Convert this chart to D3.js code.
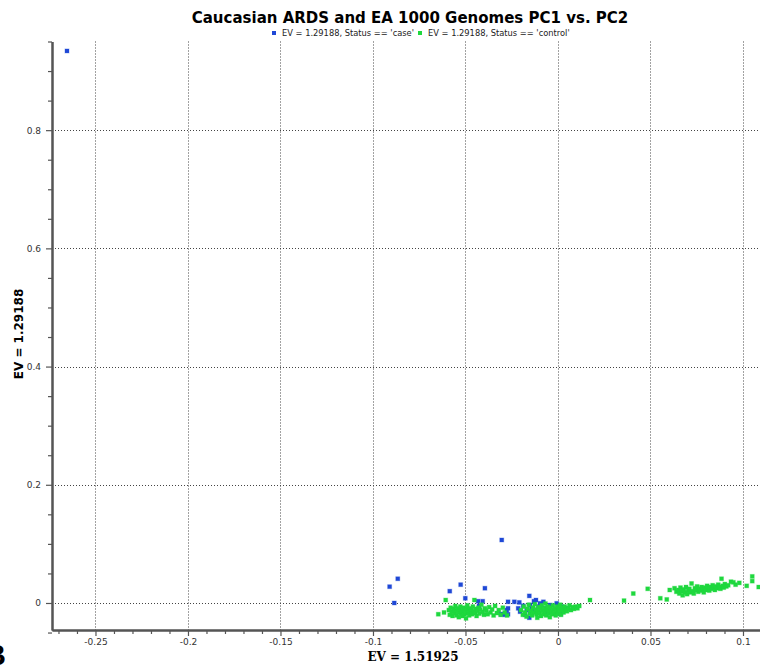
<!DOCTYPE html>
<html>
<head>
<meta charset="utf-8">
<script src="https://cdn.jsdelivr.net/npm/d3@7"></script>
<style>
  html, body { margin: 0; padding: 0; background: #fff; overflow: hidden; }
  svg { display: block; }
</style>
</head>
<body>
<div id="chart"></div>
<script>
// title / labels
const chartTitle  = "Caucasian ARDS and EA 1000 Genomes PC1 vs. PC2";
const xLabel      = "EV = 1.51925";
const yLabel      = "EV = 1.29188";
const seriesNames = ["EV = 1.29188, Status == 'case'", "EV = 1.29188, Status == 'control'"];

// ticks
const xMajor = [-0.25, -0.2, -0.15, -0.1, -0.05, 0, 0.05, 0.1];
const xMinor = [-0.27, -0.26, -0.24, -0.23, -0.22, -0.21, -0.19, -0.18, -0.17, -0.16,
                -0.14, -0.13, -0.12, -0.11, -0.09, -0.08, -0.07, -0.06, -0.04, -0.03,
                -0.02, -0.01, 0.01, 0.02, 0.03, 0.04, 0.06, 0.07, 0.08, 0.09, 0.11];
const yMajor = [0, 0.2, 0.4, 0.6, 0.8];
const yMinor = [-0.05, 0.05, 0.1, 0.15, 0.25, 0.3, 0.35, 0.45, 0.5, 0.55, 0.65, 0.7, 0.75, 0.85, 0.9, 0.95];

// case (blue)
const casePts = [
    [-0.2654, 0.934], [-0.0304, 0.1066], [-0.0866, 0.041], [-0.0910, 0.0276], [-0.0885, 0.000],
    [-0.0526, 0.031], [-0.0585, 0.020], [-0.0395, 0.025], [-0.0501, 0.008], [-0.0432, 0.003],
    [-0.0407, 0.003], [-0.0427, -0.005], [-0.0270, 0.002], [-0.0270, -0.009], [-0.0270, -0.019],
    [-0.0308, -0.019], [-0.0236, 0.002], [-0.0209, 0.001], [-0.0155, 0.012], [-0.0119, 0.005],
    [-0.0097, -0.0006], [-0.0079, 0.002], [-0.0188, -0.0046], [-0.0169, -0.012], [-0.0142, -0.009],
    [-0.0205, -0.0147], [-0.0178, -0.020], [-0.0155, -0.025], [-0.0277, -0.012], [-0.0304, -0.019],
    [-0.0286, -0.020], [-0.0124, -0.0147], [-0.0070, -0.009], [-0.0043, -0.0034], [-0.0007, -0.0006],
    [0.0020, -0.006], [0.0047, -0.009], [-0.0061, -0.0174], [-0.0106, -0.006], [-0.0151, -0.0034],
    [-0.0215, -0.009], [0.0011, -0.0174], [-0.0025, -0.0147], [0.0016, -0.0186], [-0.0130, 0.003]
];

// control (green)
const controlPts = [
    // left group
    [-0.0647, -0.019], [-0.0616, -0.016], [-0.0607, 0.005], [-0.0590, -0.012], [-0.0585, -0.020],
    [-0.0580, -0.008], [-0.0575, -0.015], [-0.0570, -0.022], [-0.0565, -0.010], [-0.0560, -0.017],
    [-0.0555, -0.005], [-0.0552, -0.013], [-0.0548, -0.021], [-0.0545, -0.009], [-0.0540, -0.016],
    [-0.0536, -0.024], [-0.0532, -0.011], [-0.0528, -0.006], [-0.0525, -0.018], [-0.0520, -0.014],
    [-0.0516, -0.022], [-0.0512, -0.008], [-0.0508, -0.012], [-0.0505, -0.019], [-0.0500, -0.015],
    [-0.0497, -0.026], [-0.0494, -0.010], [-0.0490, -0.004], [-0.0487, -0.017], [-0.0483, -0.013],
    [-0.0480, -0.021], [-0.0476, -0.009], [-0.0472, -0.015], [-0.0468, -0.011], [-0.0465, -0.019],
    [-0.0460, -0.006], [-0.0456, -0.014], [-0.0452, 0.005], [-0.0448, -0.017], [-0.0444, -0.010],
    [-0.0440, -0.022], [-0.0435, -0.013], [-0.0430, -0.008], [-0.0425, -0.018], [-0.0420, -0.011],
    [-0.0414, -0.003], [-0.0408, -0.015], [-0.0400, -0.020], [-0.0395, -0.009], [-0.0388, -0.013],
    [-0.0380, -0.019], [-0.0372, -0.007], [-0.0365, -0.016], [-0.0356, -0.011], [-0.0348, -0.021],
    [-0.0340, -0.005], [-0.0330, -0.017], [-0.0320, -0.012], [-0.0310, -0.020], [-0.0298, -0.008],
    [-0.0288, -0.016], [-0.0275, -0.021],
    // centre group
    [-0.0200, -0.012], [-0.0190, -0.020], [-0.0185, -0.006], [-0.0178, -0.016], [-0.0170, -0.023],
    [-0.0165, -0.010], [-0.0158, -0.003], [-0.0152, -0.018], [-0.0146, -0.013], [-0.0140, -0.021],
    [-0.0135, -0.008], [-0.0130, -0.016], [-0.0125, -0.002], [-0.0120, -0.011], [-0.0116, -0.019],
    [-0.0112, -0.025], [-0.0108, -0.014], [-0.0104, -0.007], [-0.0100, -0.017], [-0.0096, -0.010],
    [-0.0092, -0.022], [-0.0088, -0.004], [-0.0084, -0.013], [-0.0080, -0.019], [-0.0076, -0.009],
    [-0.0072, -0.015], [-0.0068, -0.001], [-0.0064, -0.021], [-0.0060, -0.011], [-0.0056, -0.006],
    [-0.0052, -0.017], [-0.0048, -0.013], [-0.0044, -0.024], [-0.0040, -0.008], [-0.0036, -0.015],
    [-0.0032, -0.019], [-0.0028, -0.004], [-0.0024, -0.011], [-0.0020, -0.016], [-0.0016, -0.009],
    [-0.0012, -0.021], [-0.0008, -0.013], [-0.0004, -0.006], [0.0000, -0.018], [0.0004, -0.010],
    [0.0008, -0.014], [0.0012, -0.003], [0.0016, -0.020], [0.0020, -0.008], [0.0025, -0.012],
    [0.0030, -0.016], [0.0036, -0.006], [0.0042, -0.011], [0.0048, -0.014], [0.0055, -0.009],
    [0.0062, -0.004], [0.0070, -0.012], [0.0078, -0.007], [0.0086, -0.010], [0.0095, -0.006],
    [0.0105, -0.009], [0.0115, -0.005], [0.0173, 0.005],
    // right group
    [0.0357, 0.004], [0.0407, 0.016], [0.0485, 0.024], [0.0553, 0.008], [0.0588, 0.006],
    [0.0604, 0.022], [0.0630, 0.025], [0.0640, 0.019], [0.0650, 0.022], [0.0656, 0.016],
    [0.0662, 0.026], [0.0668, 0.020], [0.0674, 0.013], [0.0680, 0.023], [0.0686, 0.018],
    [0.0692, 0.027], [0.0698, 0.015], [0.0704, 0.021], [0.0710, 0.024], [0.0716, 0.018],
    [0.0722, 0.033], [0.0728, 0.020], [0.0734, 0.016], [0.0740, 0.025], [0.0746, 0.022],
    [0.0752, 0.028], [0.0758, 0.019], [0.0764, 0.024], [0.0770, 0.021], [0.0776, 0.027],
    [0.0782, 0.023], [0.0788, 0.018], [0.0794, 0.026], [0.0800, 0.022], [0.0806, 0.029],
    [0.0812, 0.025], [0.0818, 0.021], [0.0824, 0.027], [0.0830, 0.024], [0.0836, 0.030],
    [0.0842, 0.026], [0.0848, 0.022], [0.0854, 0.028], [0.0860, 0.025], [0.0866, 0.031],
    [0.0872, 0.027], [0.0878, 0.024], [0.0884, 0.041], [0.0890, 0.029], [0.0896, 0.026],
    [0.0902, 0.032], [0.0910, 0.028], [0.0920, 0.030], [0.0935, 0.036], [0.0948, 0.035],
    [0.0960, 0.031], [0.0980, 0.034], [0.1020, 0.029], [0.1050, 0.045], [0.1050, 0.037],
    [0.1085, 0.027], [0.1110, 0.040]
];

const colors = ["#1f48d6", "#1fd83e"];

const width = 760, height = 669;
const margin = {top: 41.5, right: -10, bottom: 39, left: 52};

const svg = d3.select("#chart").append("svg")
    .attr("width", width)
    .attr("height", height)
    .style("font-family", "Tahoma, 'DejaVu Sans', sans-serif");

const x = d3.scaleLinear()
    .domain([-0.2735, 0.1146])
    .range([margin.left, width - margin.right]);
const y = d3.scaleLinear()
    .domain([-0.0457, 0.95])
    .range([height - margin.bottom, margin.top]);

////////////
/// Grid ///
////////////

const grid = svg.append("g")
    .attr("stroke", "#444")
    .attr("stroke-width", 1)
    .attr("stroke-dasharray", "1,2");

grid.selectAll(".vg").data(xMajor).enter().append("line")
    .attr("x1", d => Math.round(x(d)) + 0.5)
    .attr("x2", d => Math.round(x(d)) + 0.5)
    .attr("y1", y.range()[1])
    .attr("y2", y.range()[0]);

grid.selectAll(".hg").data(yMajor).enter().append("line")
    .attr("x1", x.range()[0])
    .attr("x2", x.range()[1])
    .attr("y1", d => Math.round(y(d)) + 0.5)
    .attr("y2", d => Math.round(y(d)) + 0.5);

////////////
/// Axes ///
////////////

const axisColor = "#555";

function styleAxis(g) {
    g.select(".domain").attr("stroke", axisColor).attr("stroke-width", 2);
    g.selectAll(".tick line").attr("stroke", axisColor).attr("stroke-width", 1.2);
    g.selectAll(".tick text")
        .attr("fill", "#333")
        .style("font-size", "9px")
        .style("font-family", "Tahoma, 'DejaVu Sans', sans-serif");
}

const xAxisY = height - margin.bottom;

svg.append("g")
    .attr("transform", "translate(0," + xAxisY + ")")
    .call(d3.axisBottom(x).tickValues(xMinor).tickSize(4).tickFormat("").tickSizeOuter(0))
    .call(styleAxis);

svg.append("g")
    .attr("transform", "translate(0," + xAxisY + ")")
    .call(d3.axisBottom(x).tickValues(xMajor).tickSize(6).tickPadding(3).tickSizeOuter(0)
        .tickFormat(d => String(d)))
    .call(styleAxis);

svg.append("g")
    .attr("transform", "translate(" + margin.left + ",0)")
    .call(d3.axisLeft(y).tickValues(yMinor).tickSize(4).tickFormat("").tickSizeOuter(0))
    .call(styleAxis);

svg.append("g")
    .attr("transform", "translate(" + margin.left + ",0)")
    .call(d3.axisLeft(y).tickValues(yMajor).tickSize(6).tickPadding(5).tickSizeOuter(0)
        .tickFormat(d => String(d)))
    .call(styleAxis);

//////////////
/// Points ///
//////////////

const s = 4;
[casePts, controlPts].forEach((pts, i) => {
    svg.append("g").selectAll("rect")
        .data(pts)
        .enter()
        .append("rect")
        .attr("x", d => x(d[0]) - s / 2)
        .attr("y", d => y(d[1]) - s / 2)
        .attr("width", s)
        .attr("height", s)
        .attr("fill", colors[i])
        .attr("stroke", colors[i])
        .attr("stroke-opacity", 0.3)
        .attr("stroke-width", 1);
});

//////////////
/// Labels ///
//////////////

svg.append("text")
    .attr("x", 410)
    .attr("y", 23)
    .attr("text-anchor", "middle")
    .attr("font-weight", "bold")
    .attr("font-size", "15px")
    .attr("fill", "#000")
    .text(chartTitle);

// legend
const legendX = [274, 420];
seriesNames.forEach((name, i) => {
    svg.append("rect")
        .attr("x", legendX[i] - 2)
        .attr("y", 31)
        .attr("width", 4)
        .attr("height", 4)
        .attr("fill", colors[i]);
    svg.append("text")
        .attr("x", legendX[i] + 8)
        .attr("y", 36)
        .attr("font-size", "8.3px")
        .attr("fill", "#222")
        .text(name);
});

svg.append("text")
    .attr("x", 413)
    .attr("y", 661)
    .attr("text-anchor", "middle")
    .attr("font-weight", "bold")
    .attr("font-size", "12px")
    .attr("font-family", "'DejaVu Serif', serif")
    .text(xLabel);

svg.append("text")
    .attr("transform", "translate(23,334) rotate(-90)")
    .attr("text-anchor", "middle")
    .attr("font-weight", "bold")
    .attr("font-size", "12px")
    .text(yLabel);

// panel letter, partly off the page as in the source figure
svg.append("text")
    .attr("x", 6)
    .attr("y", 665)
    .attr("text-anchor", "end")
    .attr("font-weight", "bold")
    .attr("font-size", "30px")
    .attr("font-family", "'Liberation Sans', Arial, sans-serif")
    .text("B");
</script>
</body>
</html>
